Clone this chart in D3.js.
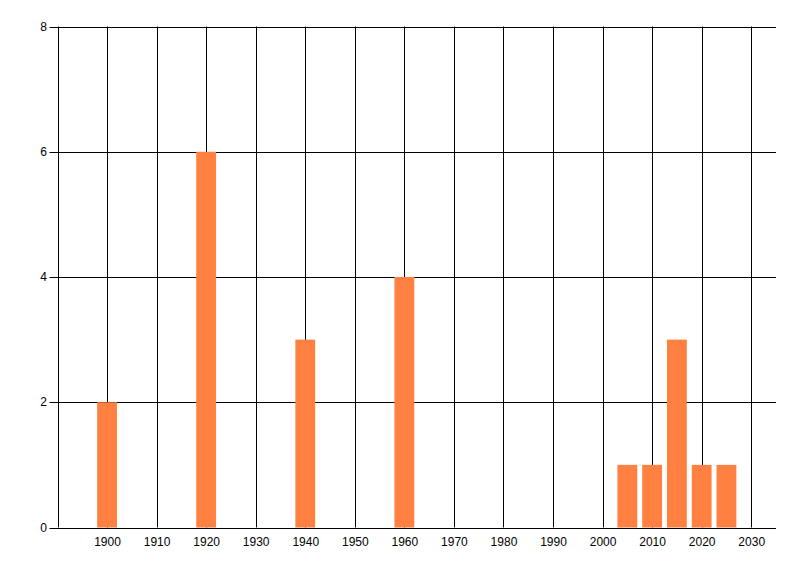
<!DOCTYPE html>
<html><head><meta charset="utf-8">
<script src="https://cdn.jsdelivr.net/npm/d3@7"></script>
<style>body{margin:0;background:#fff;}svg{display:block;}text{font-family:"Liberation Sans",Arial,sans-serif;font-size:12px;fill:#000;}</style>
</head><body>
<svg id="c" width="800" height="576"></svg>
<script>
const years = [1900, 1920, 1940, 1960, 2005, 2010, 2015, 2020, 2025];
const counts = [2, 6, 3, 4, 1, 1, 3, 1, 1];
const xTicks = [1900,1910,1920,1930,1940,1950,1960,1970,1980,1990,2000,2010,2020,2030];
const yTicks = [0, 2, 4, 6, 8];

(function(){
const svg = d3.select("#c");
const mLeft = 57.5, mRight = 776, mTop = 26.5, mBottom = 527.5;
const x = d3.scaleLinear().domain([1890, 2035]).range([mLeft, mRight]);
const y = d3.scaleLinear().domain([0, 8]).range([mBottom, mTop]);
const barW = 4; // years

svg.append("g").selectAll("line").data(yTicks).join("line")
  .attr("x1", mLeft - 8).attr("x2", mRight)
  .attr("y1", d => Math.round(y(d)) + 0.5).attr("y2", d => Math.round(y(d)) + 0.5)
  .attr("stroke", "#000").attr("stroke-width", 1);

svg.append("g").selectAll("line").data(xTicks).join("line")
  .attr("x1", d => Math.round(x(d)) + 0.5).attr("x2", d => Math.round(x(d)) + 0.5)
  .attr("y1", mTop).attr("y2", mBottom)
  .attr("stroke", "#000").attr("stroke-width", 1);

svg.append("line").attr("x1", Math.round(mLeft)+0.5).attr("x2", Math.round(mLeft)+0.5)
  .attr("y1", mTop).attr("y2", mBottom).attr("stroke", "#000");

svg.append("g").selectAll("rect").data(years.map((yr, i) => ({yr, v: counts[i]}))).join("rect")
  .attr("x", d => x(d.yr - barW/2)).attr("width", d => x(d.yr + barW/2) - x(d.yr - barW/2))
  .attr("y", d => y(d.v)).attr("height", d => y(0) - y(d.v))
  .attr("fill", "#FF8040");

svg.append("g").selectAll("text").data(yTicks).join("text")
  .attr("x", 47).attr("y", d => y(d) + 4).attr("text-anchor", "end").text(d => d);

svg.append("g").selectAll("text").data(xTicks).join("text")
  .attr("x", d => x(d) + 0.5).attr("y", 546).attr("text-anchor", "middle").text(d => d);
})();
</script>
</body></html>
